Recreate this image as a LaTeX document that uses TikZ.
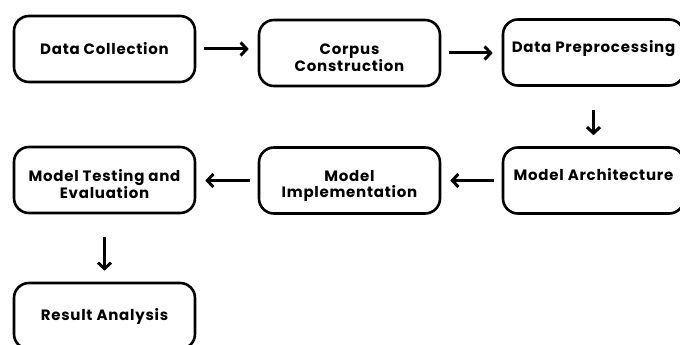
\documentclass[tikz,border=0pt]{standalone}
\usepackage{fontspec}
\setmainfont{Poppins}[LetterSpace=5]
\usetikzlibrary{arrows.meta}

\begin{document}
\begin{tikzpicture}
  [
    x=1pt, y=-1pt,
    stage/.style={draw, line width=2.6pt, rounded corners=15pt, minimum width=181pt,
      minimum height=66pt, align=center, font=\bfseries\fontsize{15}{16}\selectfont,
      inner sep=0pt},
    raised/.style={text depth=12pt},
    lowered/.style={text height=38pt},
    flow/.style={line width=3pt, -{Straight Barb[length=6pt, width=13pt]},
      shorten <=8pt, shorten >=9pt},
    down/.style={flow, shorten <=23pt, shorten >=11pt}
  ]
  \useasboundingbox (0, 0) rectangle (680, 345);
  \clip (0, 0) rectangle (680, 345);

  \node[stage] (collect) at (104.5, 49) {Data Collection};
  \node[stage, lowered] (corpus) at (349.5, 53) {Corpus\\Construction};
  \node[stage, raised] (prep) at (593.5, 52.5) {Data Preprocessing};

  \node[stage, raised] (arch) at (593.5, 180.5) {Model Architecture};
  \node[stage, lowered] (impl) at (349.5, 180.5) {Model\\Implementation};
  \node[stage, lowered] (test) at (104.5, 180) {Model Testing and\\Evaluation};

  \node[stage] (result)  at (104.5, 316) {Result Analysis};

  \draw[flow] (collect) -- (collect -| corpus.west);
  \draw[flow] (corpus) -- (corpus -| prep.west);
  \draw[down] (prep) -- (prep |- arch.north);
  \draw[flow] (arch) -- (arch -| impl.east);
  \draw[flow] (impl) -- (impl -| test.east);
  \draw[down] (test) -- (test |- result.north);
\end{tikzpicture}
\end{document}
